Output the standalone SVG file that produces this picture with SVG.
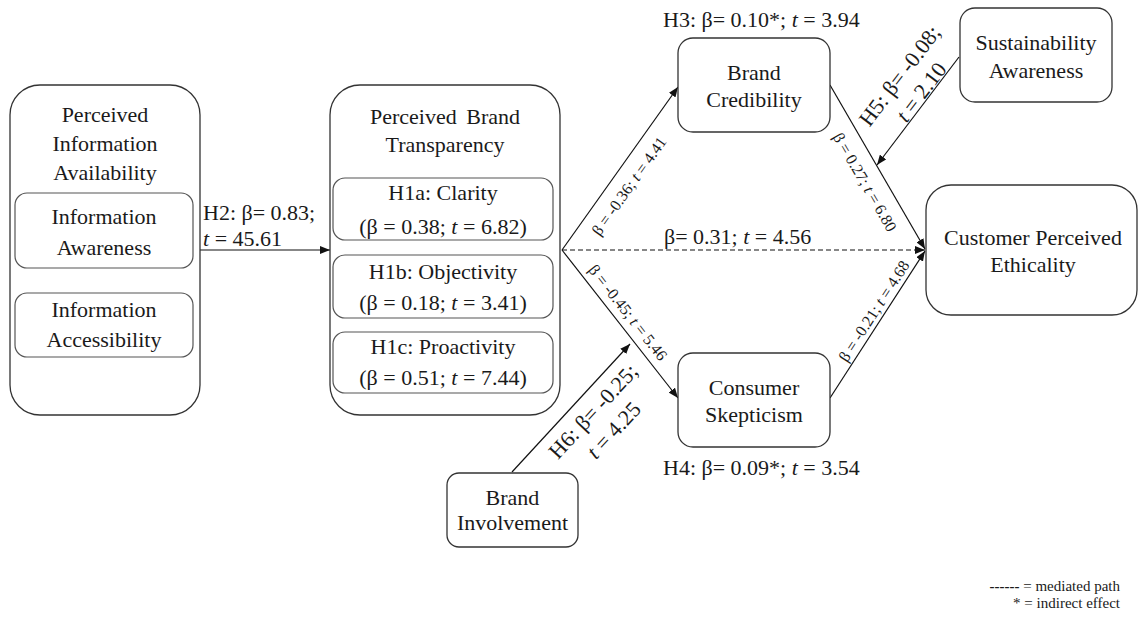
<svg xmlns="http://www.w3.org/2000/svg" width="1139" height="619" viewBox="0 0 1139 619">
<style>
text{font-family:"Liberation Serif","Times New Roman",serif;fill:#1a1a1a;}
.t{font-size:22px;text-anchor:middle;}
.l{font-size:22px;}
.s{font-size:16px;text-anchor:middle;}
.lg{font-size:15px;text-anchor:end;}
.box{fill:#fff;stroke:#333;stroke-width:1.3;}
.in{fill:#fff;stroke:#555;stroke-width:1.2;}
.c{stroke:#111;stroke-width:1.2;fill:none;}
.d{stroke-dasharray:5 3;}
.it{font-style:italic;}
</style>
<defs>
<marker id="ah" markerUnits="userSpaceOnUse" markerWidth="10" markerHeight="8" refX="10" refY="4" orient="auto">
<path d="M0,0 L10,4 L0,8 z" fill="#111"/>
</marker>
</defs>
<g id="connectors">
<line class="c" x1="200" y1="250" x2="330" y2="250" marker-end="url(#ah)"/>
<line class="c" x1="562" y1="250" x2="678" y2="87" marker-end="url(#ah)"/>
<line class="c" x1="562" y1="250" x2="678" y2="398" marker-end="url(#ah)"/>
<line class="c d" x1="562" y1="250" x2="925" y2="250" marker-end="url(#ah)"/>
<line class="c" x1="830" y1="85" x2="925" y2="249" marker-end="url(#ah)"/>
<line class="c" x1="830" y1="398" x2="925" y2="251" marker-end="url(#ah)"/>
<line class="c" x1="959" y1="57" x2="877" y2="165" marker-end="url(#ah)"/>
<line class="c" x1="512" y1="472" x2="630" y2="344" marker-end="url(#ah)"/>
<text class="l" x="203" y="220">H2: β= 0.83;</text>
<text class="l" x="203" y="246"><tspan class="it">t</tspan> = 45.61</text>
<text class="l" x="663" y="27">H3: β= 0.10*; <tspan class="it">t</tspan> = 3.94</text>
<text class="l" x="663" y="475">H4: β= 0.09*; <tspan class="it">t</tspan> = 3.54</text>
<text class="l" x="664" y="244">β= 0.31; <tspan class="it">t</tspan> = 4.56</text>
<text class="s" x="629" y="191.5" transform="rotate(-54.6 629 186)">β = -0.36; <tspan class="it">t</tspan> = 4.41</text>
<text class="s" x="628" y="318" transform="rotate(51.9 628 312.5)">β = -0.45; <tspan class="it">t</tspan> = 5.46</text>
<text class="s" x="865" y="187.5" transform="rotate(59.9 865 182)">β = 0.27; <tspan class="it">t</tspan> = 6.80</text>
<text class="s" x="874" y="316.5" transform="rotate(-57.2 874 311)">β = -0.21; <tspan class="it">t</tspan> = 4.68</text>
<text class="t" x="900" y="83" transform="rotate(-52.8 900 76)">H5: β= -0.08;</text>
<text class="t" x="921.5" y="99.3" transform="rotate(-52.8 921.5 92.3)"><tspan class="it">t</tspan> = 2.10</text>
<text class="t" x="593.5" y="418.5" transform="rotate(-47.3 593.5 411.5)">H6: β= -0.25;</text>
<text class="t" x="614" y="437.5" transform="rotate(-47.3 614 430.5)"><tspan class="it">t</tspan> = 4.25</text>
</g>
<g id="pia">
<rect class="box" x="10" y="85" width="190" height="330" rx="30"/>
<text class="t" x="105" y="122">Perceived</text>
<text class="t" x="105" y="151">Information</text>
<text class="t" x="105" y="180">Availability</text>
</g>
<g id="info-awareness">
<rect class="in" x="15" y="193" width="178" height="75" rx="12"/>
<text class="t" x="104" y="224">Information</text>
<text class="t" x="104" y="255">Awareness</text>
</g>
<g id="info-accessibility">
<rect class="in" x="15" y="293" width="178" height="64" rx="12"/>
<text class="t" x="104" y="317">Information</text>
<text class="t" x="104" y="347">Accessibility</text>
</g>
<g id="pbt">
<rect class="box" x="330" y="85" width="230" height="330" rx="30"/>
<text class="t" x="445" y="124" word-spacing="4">Perceived Brand</text>
<text class="t" x="445" y="152">Transparency</text>
</g>
<g id="h1a">
<rect class="in" x="333" y="178" width="220" height="62" rx="12"/>
<text class="t" x="443" y="200">H1a: Clarity</text>
<text class="t" x="443" y="234">(β = 0.38; <tspan class="it">t</tspan> = 6.82)</text>
</g>
<g id="h1b">
<rect class="in" x="333" y="255" width="220" height="63" rx="12"/>
<text class="t" x="443" y="279">H1b: Objectivity</text>
<text class="t" x="443" y="310">(β = 0.18; <tspan class="it">t</tspan> = 3.41)</text>
</g>
<g id="h1c">
<rect class="in" x="333" y="332" width="220" height="61" rx="12"/>
<text class="t" x="443" y="354">H1c: Proactivity</text>
<text class="t" x="443" y="385">(β = 0.51; <tspan class="it">t</tspan> = 7.44)</text>
</g>
<g id="brand-credibility">
<rect class="box" x="678" y="38" width="152" height="94" rx="15"/>
<text class="t" x="754" y="80">Brand</text>
<text class="t" x="754" y="107">Credibility</text>
</g>
<g id="consumer-skepticism">
<rect class="box" x="678" y="353" width="152" height="94" rx="15"/>
<text class="t" x="754" y="395">Consumer</text>
<text class="t" x="754" y="422">Skepticism</text>
</g>
<g id="cpe">
<rect class="box" x="926" y="185" width="211" height="130" rx="25"/>
<text class="t" x="1033" y="245">Customer Perceived</text>
<text class="t" x="1033" y="272">Ethicality</text>
</g>
<g id="sustainability-awareness">
<rect class="box" x="960" y="8" width="152" height="94" rx="15"/>
<text class="t" x="1036" y="50">Sustainability</text>
<text class="t" x="1036" y="78">Awareness</text>
</g>
<g id="brand-involvement">
<rect class="box" x="447" y="473" width="131" height="74" rx="12"/>
<text class="t" x="512.5" y="505">Brand</text>
<text class="t" x="512.5" y="530">Involvement</text>
</g>
<g id="legend">
<text class="lg" x="1120" y="591"><tspan font-weight="bold">------</tspan> = mediated path</text>
<text class="lg" x="1120" y="608">* = indirect effect</text>
</g>
</svg>
